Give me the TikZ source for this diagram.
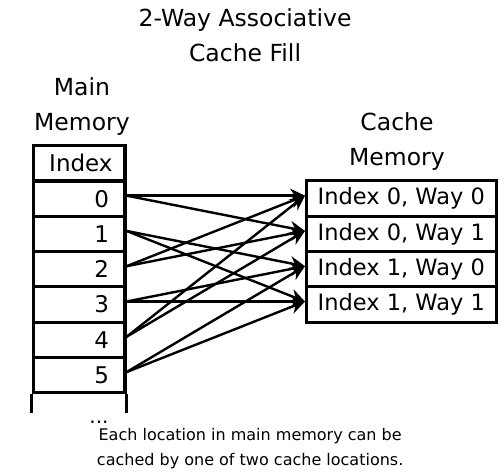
\documentclass[tikz,border=0pt]{standalone}
\usepackage{fontspec}
\setmainfont{DejaVu Sans}
\usepackage{tikz}
\usetikzlibrary{positioning, arrows.meta}

\begin{document}
\begin{tikzpicture}[
        heading/.style={draw=none, align=center, font=\fontsize{23.5}{35}\selectfont},
        memcell/.style={rectangle, draw=black, line width=3.2pt, minimum width=3.22cm, minimum height=1.24cm, text width=2.1cm, inner xsep=0.56cm, align=right, font=\fontsize{23}{25}\selectfont},
        memhead/.style={memcell, align=center},
        cachecell/.style={rectangle, draw=black, line width=3pt, minimum width=6.66cm, minimum height=1.24cm, align=center, font=\fontsize{22.5}{25}\selectfont},
        fillarrow/.style={-{Stealth[length=15pt, width=14pt]}, line width=2.4pt},
        caption/.style={draw=none, align=center, font=\fontsize{16}{25}\selectfont}
    ]
        \useasboundingbox (0,0) rectangle (17.71,-16.62);

        % Headers
        \node[heading] (title) at (8.61,-1.23) {2-Way Associative\\Cache Fill};
        \node[heading] (mainlbl) at (2.88,-3.76) {Main\\Memory};
        \node[heading] (cachelbl) at (13.95,-4.97) {Cache\\Memory};

        % Main memory
        \node[memhead] (mh) at (2.78,-5.74) {Index};
        \node[memcell] (m0) at (2.78,-6.98) {0};
        \node[memcell] (m1) at (2.78,-8.22) {1};
        \node[memcell] (m2) at (2.78,-9.46) {2};
        \node[memcell] (m3) at (2.78,-10.70) {3};
        \node[memcell] (m4) at (2.78,-11.94) {4};
        \node[memcell] (m5) at (2.78,-13.18) {5};
        \draw[line width=3.2pt] (m5.south west) -- ++(0,-0.67);
        \draw[line width=3.2pt] (m5.south east) -- ++(0,-0.67);
        \node[heading, font=\fontsize{20}{25}\selectfont] (dots) at (3.48,-14.85) {...};

        % Cache memory
        \node[cachecell] (c0) at (14.10,-6.98) {Index 0, Way 0};
        \node[cachecell] (c1) at (14.10,-8.22) {Index 0, Way 1};
        \node[cachecell] (c2) at (14.10,-9.46) {Index 1, Way 0};
        \node[cachecell] (c3) at (14.10,-10.70) {Index 1, Way 1};

        % Fill arrows
        \draw[fillarrow] ([yshift=3pt]m0.east) -- ([yshift=3pt]c0.west);
        \draw[fillarrow] ([yshift=3pt]m0.east) -- ([yshift=3pt]c1.west);
        \draw[fillarrow] ([yshift=3pt]m1.east) -- ([yshift=3pt]c2.west);
        \draw[fillarrow] ([yshift=3pt]m1.east) -- ([yshift=3pt]c3.west);
        \draw[fillarrow] ([yshift=3pt]m2.east) -- ([yshift=3pt]c0.west);
        \draw[fillarrow] ([yshift=3pt]m2.east) -- ([yshift=3pt]c1.west);
        \draw[fillarrow] ([yshift=3pt]m3.east) -- ([yshift=3pt]c2.west);
        \draw[fillarrow] ([yshift=3pt]m3.east) -- ([yshift=3pt]c3.west);
        \draw[fillarrow] ([yshift=3pt]m4.east) -- ([yshift=3pt]c0.west);
        \draw[fillarrow] ([yshift=3pt]m4.east) -- ([yshift=3pt]c1.west);
        \draw[fillarrow] ([yshift=3pt]m5.east) -- ([yshift=3pt]c2.west);
        \draw[fillarrow] ([yshift=3pt]m5.east) -- ([yshift=3pt]c3.west);

        % Caption
        \node[caption] (note) at (8.79,-15.76) {Each location in main memory can be\\cached by one of two cache locations.};
    \end{tikzpicture}
\end{document}
